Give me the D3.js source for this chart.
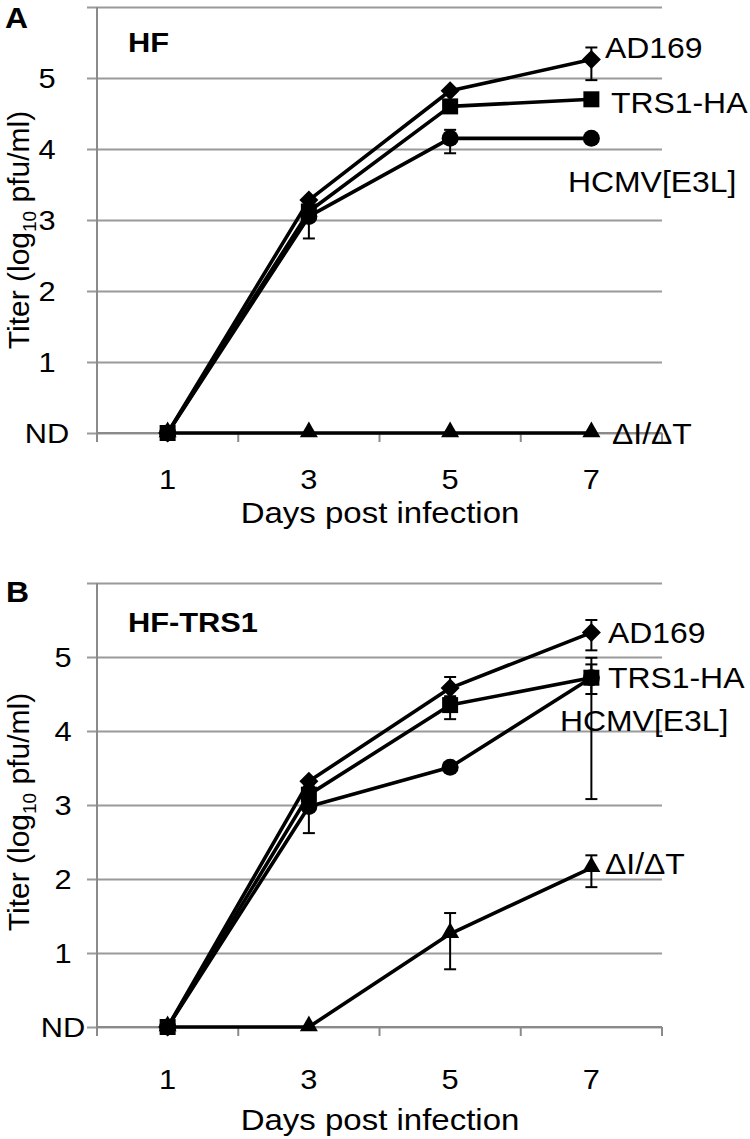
<!DOCTYPE html>
<html><head><meta charset="utf-8">
<script src="https://cdn.jsdelivr.net/npm/d3@7"></script>
<style>
body{margin:0;background:#fff}
svg{display:block}
text{font-family:"Liberation Sans",Arial,Helvetica,sans-serif;fill:#000}
</style>
</head><body>
<svg id="chart" width="750" height="1139"></svg>
<script>
// ---------- DATA ----------
const days = [1, 3, 5, 7];
const yTickValues = [0, 1, 2, 3, 4, 5, 6];
const yTickLabels = ["ND", "1", "2", "3", "4", "5", ""];
const seriesNames = ["AD169", "TRS1-HA", "HCMV[E3L]", "ΔI/ΔT"];
const seriesMarkers = ["diamond", "square", "circle", "triangle"];

// Panel A: HF
const hfAD169 = [0, 3.28, 4.82, 5.26];
const hfTRS1HA = [0, 3.12, 4.60, 4.70];
const hfE3L = [0, 3.05, 4.15, 4.15];
const hfDelta = [0, 0, 0, 0];
const hfAD169Err = [null, null, null, [4.97, 5.43]];
const hfTRS1HAErr = [null, null, null, null];
const hfE3LErr = [null, [2.74, 3.30], [3.94, 4.27], null];
const hfDeltaErr = [null, null, null, null];

// Panel B: HF-TRS1
const trsAD169 = [0, 3.32, 4.58, 5.33];
const trsTRS1HA = [0, 3.14, 4.35, 4.72];
const trsE3L = [0, 2.98, 3.51, 4.72];
const trsDelta = [0, 0, 1.26, 2.15];
const trsAD169Err = [null, null, [4.45, 4.73], [5.09, 5.50]];
const trsTRS1HAErr = [null, null, [4.16, 4.47], [4.50, 4.99]];
const trsE3LErr = [null, [2.62, 3.25], null, [3.08, 4.90]];
const trsDeltaErr = [null, null, [0.78, 1.54], [1.89, 2.32]];

// ---------- LAYOUT ----------
const svg = d3.select("#chart");
const SX = 1.1; // horizontal stretch of lettering, as in the reference

const panels = [
  {
    letter: "A", cond: "HF",
    values: [hfAD169, hfTRS1HA, hfE3L, hfDelta],
    errors: [hfAD169Err, hfTRS1HAErr, hfE3LErr, hfDeltaErr],
    yRange: [433, 7], yLabelX: 47, yTitle: [29, 230],
    xTickY: 489, xTitleY: 523, letterPos: [5, 28], condPos: [128, 52],
    labelPos: [[605, 58], [611, 113], [568, 192], [612, 444]]
  },
  {
    letter: "B", cond: "HF-TRS1",
    values: [trsAD169, trsTRS1HA, trsE3L, trsDelta],
    errors: [trsAD169Err, trsTRS1HAErr, trsE3LErr, trsDeltaErr],
    yRange: [1027, 583], yLabelX: 63, yTitle: [29, 812],
    xTickY: 1089, xTitleY: 1130, letterPos: [6, 602], condPos: [128, 632],
    labelPos: [[608, 643], [608, 688], [560, 731], [605, 874]]
  }
];

const x = d3.scaleBand().domain(days).range([97, 662]).paddingInner(0).paddingOuter(0);
const xc = d => x(d) + x.bandwidth() / 2;

function txt(g, px, py, str, size, anchor, bold) {
  return g.append("text")
    .attr("transform", `translate(${px},${py}) scale(${SX},1)`)
    .attr("text-anchor", anchor || "start")
    .attr("font-size", size)
    .attr("font-weight", bold ? "bold" : null)
    .text(str);
}

function markerPath(type) {
  const p = d3.path();
  if (type === "diamond") {
    const r = 9.5; p.moveTo(0, -r); p.lineTo(r, 0); p.lineTo(0, r); p.lineTo(-r, 0); p.closePath();
    return p.toString();
  }
  if (type === "square") {
    const h = 8; p.rect(-h, -h, 2 * h, 2 * h); return p.toString();
  }
  if (type === "circle") {
    p.arc(0, 0, 8.5, 0, 2 * Math.PI); return p.toString();
  }
  const s = 18, hgt = s * Math.sqrt(3) / 2;
  p.moveTo(0, -hgt * 2 / 3 - 1); p.lineTo(s / 2, hgt / 3 - 1); p.lineTo(-s / 2, hgt / 3 - 1); p.closePath();
  return p.toString();
}

panels.forEach(P => {
  const y = d3.scaleLinear().domain([0, 6]).range(P.yRange);
  const g = svg.append("g");

  // horizontal gridlines with small left ticks
  const grid = d3.axisLeft(y).tickValues(yTickValues).tickSize(-(662 - 87)).tickFormat("");
  g.append("g").attr("transform", "translate(87,0)").call(grid)
    .call(s => s.select(".domain").remove())
    .call(s => s.selectAll("line").attr("stroke", "#9a9a9a").attr("stroke-width", 2.2));

  // y tick labels (centered)
  yTickValues.forEach((v, i) => txt(g, P.yLabelX, y(v) + 10, yTickLabels[i], 28, "middle"));

  // y axis line
  g.append("line").attr("x1", 97).attr("x2", 97).attr("y1", y(6)).attr("y2", y(0) + 9)
    .attr("stroke", "#8a8a8a").attr("stroke-width", 2);

  // x axis with ticks at band boundaries
  const bounds = days.map(d => x(d)).concat([x(days[days.length - 1]) + x.bandwidth()]);
  g.selectAll(".xt").data(bounds).join("line")
    .attr("x1", d => d).attr("x2", d => d).attr("y1", y(0)).attr("y2", y(0) + 9)
    .attr("stroke", "#8a8a8a").attr("stroke-width", 2);
  g.append("line").attr("x1", 97).attr("x2", 662).attr("y1", y(0)).attr("y2", y(0))
    .attr("stroke", "#8a8a8a").attr("stroke-width", 2.2);

  // x tick labels
  days.forEach(d => txt(g, xc(d), P.xTickY, String(d), 28, "middle"));

  // x title
  txt(g, 380, P.xTitleY, "Days post infection", 30, "middle");

  // y title
  const yt = g.append("text")
    .attr("transform", `translate(${P.yTitle[0]},${P.yTitle[1]}) rotate(-90)`)
    .attr("text-anchor", "middle").attr("font-size", 30);
  yt.append("tspan").text("Titer (log");
  yt.append("tspan").attr("font-size", 19).attr("dy", 7).text("10");
  yt.append("tspan").attr("dy", -7).text(" pfu/ml)");

  // panel letter and condition
  txt(g, P.letterPos[0], P.letterPos[1], P.letter, 29, "start", true);
  txt(g, P.condPos[0], P.condPos[1], P.cond, 28, "start", true);

  const line = d3.line().x((d, i) => xc(days[i])).y(d => y(d));
  const order = [3, 2, 1, 0];

  // series lines
  order.forEach(si => {
    g.append("path").datum(P.values[si]).attr("d", line)
      .attr("fill", "none").attr("stroke", "#000").attr("stroke-width", 3.6)
      .attr("stroke-linejoin", "round");
  });

  // error bars
  order.forEach(si => {
    P.errors[si].forEach((e, i) => {
      if (!e) return;
      const cx = xc(days[i]);
      const eg = g.append("g").attr("stroke", "#000").attr("stroke-width", 2);
      eg.append("line").attr("x1", cx).attr("x2", cx).attr("y1", y(e[0])).attr("y2", y(e[1]));
      eg.append("line").attr("x1", cx - 6).attr("x2", cx + 6).attr("y1", y(e[0])).attr("y2", y(e[0]));
      eg.append("line").attr("x1", cx - 6).attr("x2", cx + 6).attr("y1", y(e[1])).attr("y2", y(e[1]));
    });
  });

  // markers
  order.forEach(si => {
    g.selectAll(null).data(P.values[si]).join("path")
      .attr("d", markerPath(seriesMarkers[si]))
      .attr("transform", (d, i) => `translate(${xc(days[i])},${y(d)})`)
      .attr("fill", "#000");
  });

  // series labels
  seriesNames.forEach((name, si) => txt(g, P.labelPos[si][0], P.labelPos[si][1], name, 29, "start"));
});
</script>
</body></html>
